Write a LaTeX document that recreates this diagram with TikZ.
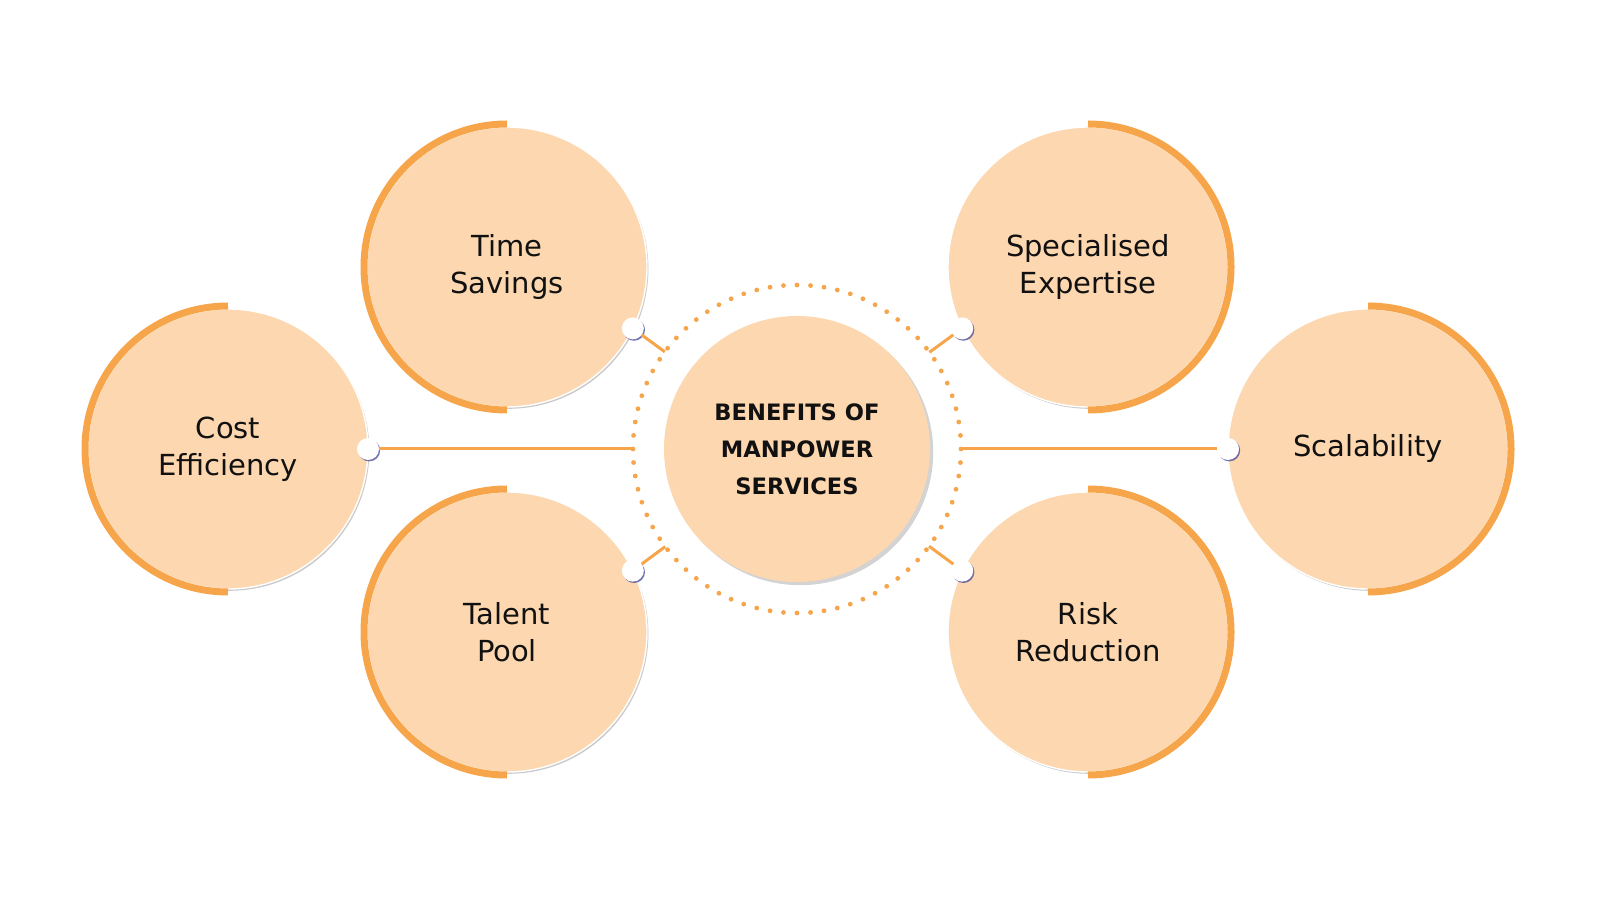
\documentclass[tikz,border=0pt]{standalone}
\usepackage{fontspec}
\setmainfont{DejaVu Sans}
\usetikzlibrary{calc,shadows}
\definecolor{PerkPeach}{HTML}{FDD7AF}
\definecolor{PerkOrange}{HTML}{F6A54B}
\definecolor{PerkInk}{HTML}{111111}
\definecolor{PerkShade}{HTML}{46489A}
\definecolor{PerkEdge}{gray}{0.74}
\tikzset{
    perk/diagram/.style={
        x=0.5pt, y=0.5pt,
        line cap=round,
        line join=round,
        every node/.style={inner sep=0pt, outer sep=0pt}
    },
    perk/bubble/.style={
        circle, minimum size=140pt, fill=PerkPeach,
        draw=white, line width=0.7pt, text=PerkInk, align=center,
        font=\fontsize{14.5}{18.3}\selectfont,
        drop shadow={fill=PerkEdge, opacity=0.8,
            shadow xshift=0.7pt, shadow yshift=-0.9pt}
    },
    perk/hub/.style={
        circle, minimum size=133pt, fill=PerkPeach,
        text=PerkInk, align=center,
        font=\bfseries\fontsize{11.3}{18.5}\selectfont,
        drop shadow={fill=gray, opacity=0.35,
            shadow xshift=1.6pt, shadow yshift=-1.6pt}
    },
    perk/rim/.style={draw=PerkOrange, line width=3.5pt, line cap=butt},
    perk/ring/.style={
        draw=PerkOrange, line width=2.4pt, line cap=round,
        dash pattern=on 0pt off 6.78pt
    },
    perk/knob/.style={
        circle, minimum size=11pt, fill=white,
        drop shadow={fill=PerkShade, opacity=0.75,
            shadow xshift=0.6pt, shadow yshift=-0.7pt}
    },
    perk/link/.style={draw=PerkOrange, line width=1.5pt, line cap=butt}
}

\begin{document}
\begin{tikzpicture}[perk/diagram]
    \useasboundingbox (0,0) rectangle (1600,900);
    % hub and the six benefits
    \node[perk/hub] (hub) at (797,451) {BENEFITS OF\\MANPOWER\\SERVICES};
    \node[perk/bubble] (cost) at (228,451) {Cost\\Efficiency};
    \node[perk/bubble] (time) at (507,633) {Time\\Savings};
    \node[perk/bubble] (talent) at (507,268) {Talent\\Pool};
    \node[perk/bubble] (expert) at (1088,633) {Specialised\\Expertise};
    \node[perk/bubble] (risk) at (1088,268) {Risk\\Reduction};
    \node[perk/bubble] (scale) at (1368,451) {Scalability};

    % orange half rims
    \foreach \n in {cost,time,talent}
        \draw[perk/rim] ([yshift=71.5pt]\n.center)
            arc[start angle=90, end angle=270, radius=71.5pt];
    \foreach \n in {expert,risk,scale}
        \draw[perk/rim] ([yshift=71.5pt]\n.center)
            arc[start angle=90, end angle=-90, radius=71.5pt];

    % dotted ring round the hub
    \draw[perk/ring] (hub.center) circle[radius=82pt];

    % knobs on the bubbles
    \node[perk/knob] (cost-knob) at (cost.0) {};
    \node[perk/knob] (time-knob) at (time.-26) {};
    \node[perk/knob] (talent-knob) at (talent.26) {};
    \node[perk/knob] (expert-knob) at (expert.206) {};
    \node[perk/knob] (risk-knob) at (risk.154) {};
    \node[perk/knob] (scale-knob) at (scale.180) {};

    % links to the ring
    \foreach \n in {cost,time,talent,expert,risk,scale} {
        \coordinate (\n-end) at ($(hub.center)!82pt!(\n-knob)$);
        \draw[perk/link] (\n-knob) -- (\n-end);
    }
\end{tikzpicture}
\end{document}
